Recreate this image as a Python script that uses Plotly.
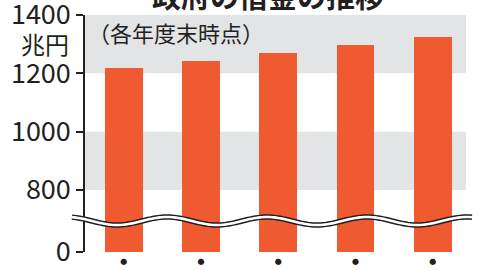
import plotly.graph_objects as go
from plotly.subplots import make_subplots
import math

# data
categories = ["c1", "c2", "c3", "c4", "c5"]
debt = [1217, 1241, 1269, 1296, 1323]
tick_dots = ["●", "●", "●", "●", "●"]
top_ticks = [800, 1000, 1200, 1400]

W, H = 480, 270
L, R, T, B = 85, 14, 15, 18
PW, PH = W - L - R, H - T - B
BAR = "#F05A30"
GRAY = "#E3E4E5"
INK = "#231F20"
FONT = "Noto Sans CJK JP"

brk = 218  # pixel row of the axis break
bot_frac = (H - B - brk) / PH

fig = make_subplots(rows=2, cols=1, shared_xaxes=True, vertical_spacing=0,
                    row_heights=[1 - bot_frac, bot_frac])

for r in (1, 2):
    fig.add_trace(go.Bar(x=categories, y=debt, marker_color=BAR, width=0.49,
                         marker_line_width=0, showlegend=False), row=r, col=1)

# top axis scale: 1400 at y=15, 800 at y=190
upp = 600 / 175.0
top_lo = 800 - (brk - 190) * upp
bot_hi = (H - B - brk) * upp

fig.update_yaxes(row=1, col=1, range=[top_lo, 1400.01], tickvals=top_ticks,
                 showgrid=False, zeroline=False)
fig.update_yaxes(row=2, col=1, range=[-0.01, bot_hi], tickvals=[0],
                 showgrid=False, zeroline=False)
fig.update_yaxes(showline=True, linecolor=INK, linewidth=1.5, ticks="outside",
                 ticklen=7, tickwidth=1.5, tickcolor=INK, automargin=False,
                 tickfont=dict(size=27, color=INK, family=FONT),
                 ticklabelstandoff=0, ticklabeloverflow="allow")
fig.update_xaxes(range=[-0.5, 4.43], showgrid=False, zeroline=False,
                 showline=False, ticks="", automargin=False,
                 ticklabeloverflow="allow")
fig.update_xaxes(row=1, col=1, showticklabels=False)
fig.update_xaxes(row=2, col=1, showticklabels=True, tickvals=categories,
                 ticktext=tick_dots, ticklabelstandoff=4,
                 tickfont=dict(size=7, color=INK, family=FONT))

shapes = []
for y0, y1 in [(1200, 1400), (800, 1000)]:
    shapes.append(dict(type="rect", xref="x domain", yref="y", x0=0, x1=1,
                       y0=y0, y1=y1, fillcolor=GRAY, line_width=0, layer="below"))

# wavy break line (decoration)
def px2paper(px, py):
    return (px - L) / PW, (H - B - py) / PH

pts = []
x = 72
while x <= 472:
    py = 221 + 4 * math.cos(2 * math.pi * (x - 117) / 100)
    pts.append(px2paper(x, py))
    x += 2
path = "M " + " L ".join(f"{a:.5f},{b:.5f}" for a, b in pts)
shapes.append(dict(type="path", xref="paper", yref="paper", path=path,
                   line=dict(color=INK, width=5.5), layer="above"))
shapes.append(dict(type="path", xref="paper", yref="paper", path=path,
                   line=dict(color="white", width=2.6), layer="above"))

annotations = [
    dict(text="政府の借金の推移", xref="paper", yref="paper",
         x=(268 - L) / PW, y=(H - B + 5) / PH, xanchor="center", yanchor="middle",
         showarrow=False, font=dict(size=29, color=INK, family=FONT, weight="bold")),
    dict(text="兆円", xref="paper", yref="paper", x=(71 - L) / PW,
         y=(H - B - 43) / PH, xanchor="right", yanchor="middle",
         showarrow=False, font=dict(size=24, color=INK, family=FONT)),
    dict(text="（各年度末時点）", xref="paper", yref="paper", x=(86 - L) / PW,
         y=(H - B - 32) / PH, xanchor="left", yanchor="middle",
         showarrow=False, font=dict(size=22, color=INK, family=FONT)),
]

fig.update_layout(width=W, height=H, margin=dict(l=L, r=R, t=T, b=B, autoexpand=False),
                  paper_bgcolor="white", plot_bgcolor="white",
                  shapes=shapes, annotations=annotations, bargap=0)

fig.write_html("out.html")
